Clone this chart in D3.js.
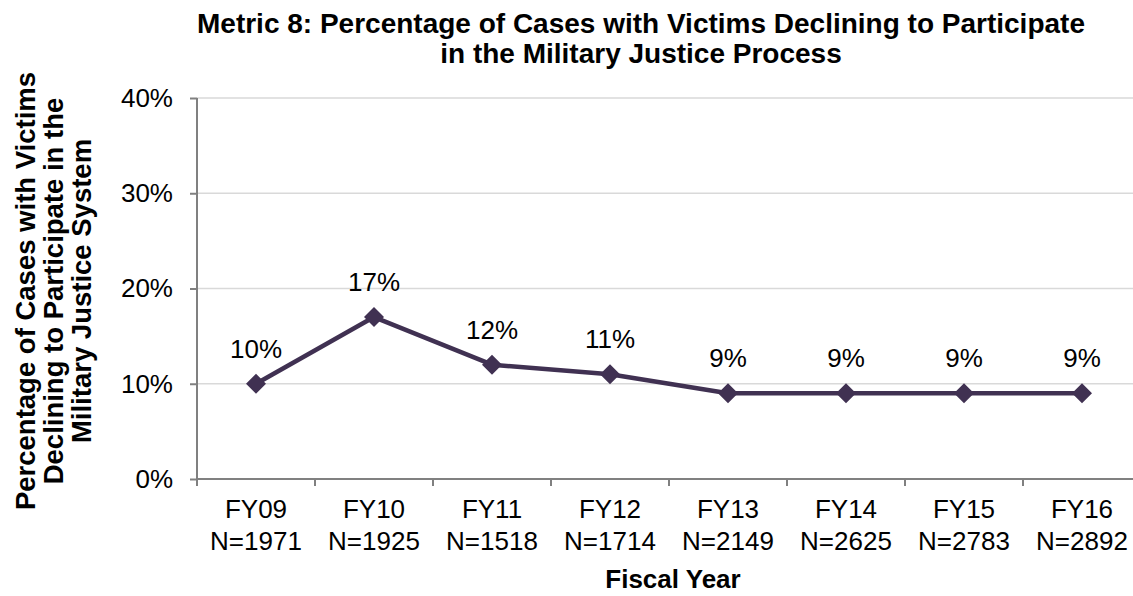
<!DOCTYPE html>
<html>
<head>
<meta charset="utf-8">
<script src="https://cdn.jsdelivr.net/npm/d3@7"></script>
<style>
body{margin:0;background:#fff;}
text{font-family:"Liberation Sans",Arial,sans-serif;}
</style>
</head>
<body>
<div id="chart"></div>
<script>
var years = ["FY09","FY10","FY11","FY12","FY13","FY14","FY15","FY16"];
var counts = ["N=1971","N=1925","N=1518","N=1714","N=2149","N=2625","N=2783","N=2892"];
var pct = [10,17,12,11,9,9,9,9];
var yTicks = [0,10,20,30,40];

var width = 1133, height = 596;
var svg = d3.select("#chart").append("svg").attr("width", width).attr("height", height);

var x = d3.scaleBand().domain(years).range([197, 1141]);
var y = d3.scaleLinear().domain([0, 40]).range([479, 98]);

// gridlines
svg.selectAll(".grid").data(yTicks.slice(1)).enter().append("line")
	.attr("x1", 197).attr("x2", 1141)
	.attr("y1", function(d){ return y(d); }).attr("y2", function(d){ return y(d); })
	.attr("stroke", "#d9d9d9").attr("stroke-width", 1.5);

// y axis
var yAxis = svg.append("g").attr("transform", "translate(197,0)")
	.call(d3.axisLeft(y).tickValues(yTicks).tickSize(7).tickPadding(17).tickFormat(function(d){ return d + "%"; }));
yAxis.selectAll("path,line").attr("stroke", "#808080").attr("stroke-width", 2);
yAxis.select(".domain").attr("d", "M0,98V479");
yAxis.selectAll("text").attr("font-size", 26).attr("fill", "#000").attr("font-family", "Liberation Sans,Arial,sans-serif");

// x axis
var xAxis = svg.append("g").attr("transform", "translate(0,479)");
xAxis.append("line").attr("x1", 197).attr("x2", 1141).attr("stroke", "#808080").attr("stroke-width", 2);
var edges = years.map(function(d){ return x(d); }).concat([x.range()[1]]);
xAxis.selectAll(".tk").data(edges).enter().append("line")
	.attr("x1", function(d){ return d; }).attr("x2", function(d){ return d; })
	.attr("y1", 0).attr("y2", 7).attr("stroke", "#808080").attr("stroke-width", 2);
var lab = xAxis.selectAll(".lab").data(years).enter().append("text")
	.attr("text-anchor", "middle").attr("font-size", 26).attr("fill", "#000");
lab.append("tspan").attr("x", function(d){ return x(d) + x.bandwidth()/2; }).attr("y", 39).text(function(d){ return d; });
lab.append("tspan").attr("x", function(d){ return x(d) + x.bandwidth()/2; }).attr("y", 71).text(function(d, i){ return counts[i]; });

// line
var cx = function(d, i){ return x(years[i]) + x.bandwidth()/2; };
svg.append("path").datum(pct)
	.attr("d", d3.line().x(cx).y(function(d){ return y(d); }))
	.attr("fill", "none").attr("stroke", "#403152").attr("stroke-width", 4.5).attr("stroke-linejoin", "round");

svg.selectAll(".mk").data(pct).enter().append("path")
	.attr("transform", function(d, i){ return "translate(" + cx(d, i) + "," + y(d) + ")"; })
	.attr("d", "M0,-10L10,0L0,10L-10,0Z").attr("fill", "#403152");

svg.selectAll(".dl").data(pct).enter().append("text")
	.attr("x", cx).attr("y", function(d){ return y(d) - 26; })
	.attr("text-anchor", "middle").attr("font-size", 26).attr("fill", "#000")
	.text(function(d){ return d + "%"; });

// titles
var title = svg.append("text").attr("text-anchor", "middle").attr("font-size", 28).attr("font-weight", "bold");
title.append("tspan").attr("x", 641).attr("y", 33).text("Metric 8: Percentage of Cases with Victims Declining to Participate");
title.append("tspan").attr("x", 641).attr("y", 63).text("in the Military Justice Process");

svg.append("text").attr("x", 673).attr("y", 588).attr("text-anchor", "middle")
	.attr("font-size", 26).attr("font-weight", "bold").text("Fiscal Year");

var yt = svg.append("text").attr("transform", "translate(0,291) rotate(-90)")
	.attr("text-anchor", "middle").attr("font-size", 27.5).attr("font-weight", "bold");
["Percentage of Cases with Victims", "Declining to Participate in the", "Military Justice System"].forEach(function(t, i){
	yt.append("tspan").attr("x", 0).attr("y", 35 + i*28).text(t);
});
</script>
</body>
</html>
